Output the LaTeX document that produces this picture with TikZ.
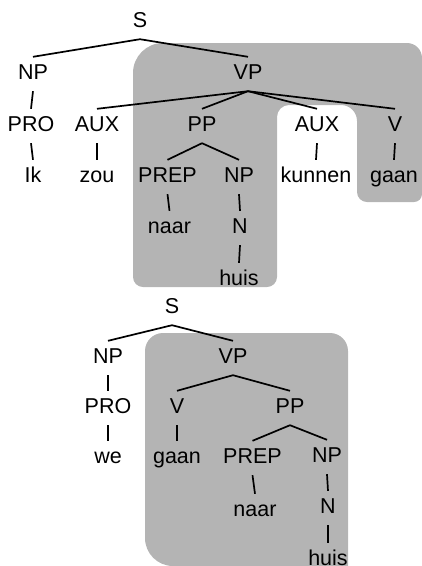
\documentclass[tikz,border=0pt]{standalone}
\usepackage{fontspec}
\setmainfont{Liberation Sans}
\definecolor{boxgray}{RGB}{180,180,180}
\tikzset{
  lbl/.style={anchor=base, inner xsep=0pt, inner ysep=6pt, text height=16pt, text depth=6pt,
              font=\fontsize{21.5}{25}\selectfont},
  br/.style={line width=1.7pt},
  graybox/.style={fill=boxgray}
}
\begin{document}
\begin{tikzpicture}[x=1pt,y=-1pt]
\useasboundingbox (0,0) rectangle (422,566);
% gray shading, top tree
\fill[graybox] (133,200) [rounded corners=30pt] -- (133,43) [rounded corners=15pt] -- (422,43)
  [rounded corners=8pt] -- (422,202) [rounded corners=10pt] -- (357,202)
  [rounded corners=16pt] -- (357,105) [rounded corners=12pt] -- (277,105)
  [rounded corners=10pt] -- (277,287) -- (133,287) -- cycle;
% gray shading, bottom tree
\fill[graybox] (145,450) [rounded corners=18pt] -- (145,333) -- (348,333)
  [rounded corners=0pt] -- (348,566) [rounded corners=28pt] -- (145,566) -- cycle;

% top tree
\node[lbl] (S1) at (140,27) {S};
\node[lbl] (NP1) at (33,79) {NP};
\node[lbl] (VP1) at (248,79) {VP};
\node[lbl] (PRO1) at (31,131) {PRO};
\node[lbl] (AUX1) at (97,131) {AUX};
\node[lbl] (PP1) at (202,131) {PP};
\node[lbl] (AUX2) at (317,131) {AUX};
\node[lbl] (V1) at (395,131) {V};
\node[lbl] (Ik) at (33,182) {Ik};
\node[lbl] (zou) at (97,182) {zou};
\node[lbl] (PREP1) at (167.5,182) {PREP};
\node[lbl] (NP2) at (239,182) {NP};
\node[lbl] (kunnen) at (316,182) {kunnen};
\node[lbl] (gaan1) at (394,182) {gaan};
\node[lbl] (naar1) at (169.5,233) {naar};
\node[lbl] (N1) at (240,233) {N};
\node[lbl] (huis1) at (239,285) {huis};

\draw[br] (S1.south) -- (NP1.north);
\draw[br] (S1.south) -- (VP1.north);
\draw[br] (NP1.south) -- (PRO1.north);
\draw[br] (PRO1.south) -- (Ik.north);
\draw[br] (VP1.south) -- (AUX1.north);
\draw[br] (VP1.south) -- (PP1.north);
\draw[br] (VP1.south) -- (AUX2.north);
\draw[br] (VP1.south) -- (V1.north);
\draw[br] (AUX1.south) -- (zou.north);
\draw[br] (PP1.south) -- (PREP1.north);
\draw[br] (PP1.south) -- (NP2.north);
\draw[br] (AUX2.south) -- (kunnen.north);
\draw[br] (V1.south) -- (gaan1.north);
\draw[br] (PREP1.south) -- (naar1.north);
\draw[br] (NP2.south) -- (N1.north);
\draw[br] (N1.south) -- (huis1.north);

% bottom tree
\node[lbl] (S2) at (172,313) {S};
\node[lbl] (NP3) at (108,363) {NP};
\node[lbl] (VP2) at (233,363) {VP};
\node[lbl] (PRO2) at (108,413) {PRO};
\node[lbl] (V2) at (177,413) {V};
\node[lbl] (PP2) at (290,413) {PP};
\node[lbl] (we) at (108,463) {we};
\node[lbl] (gaan2) at (177,463) {gaan};
\node[lbl] (PREP2) at (252.5,463) {PREP};
\node[lbl] (NP4) at (327,462) {NP};
\node[lbl] (naar2) at (255,516) {naar};
\node[lbl] (N2) at (328,513) {N};
\node[lbl] (huis2) at (328,565) {huis};

\draw[br] (S2.south) -- (NP3.north);
\draw[br] (S2.south) -- (VP2.north);
\draw[br] (NP3.south) -- (PRO2.north);
\draw[br] (PRO2.south) -- (we.north);
\draw[br] (VP2.south) -- (V2.north);
\draw[br] (VP2.south) -- (PP2.north);
\draw[br] (V2.south) -- (gaan2.north);
\draw[br] (PP2.south) -- (PREP2.north);
\draw[br] (PP2.south) -- (NP4.north);
\draw[br] (PREP2.south) -- (naar2.north);
\draw[br] (NP4.south) -- (N2.north);
\draw[br] (N2.south) -- (huis2.north);
\end{tikzpicture}
\end{document}
